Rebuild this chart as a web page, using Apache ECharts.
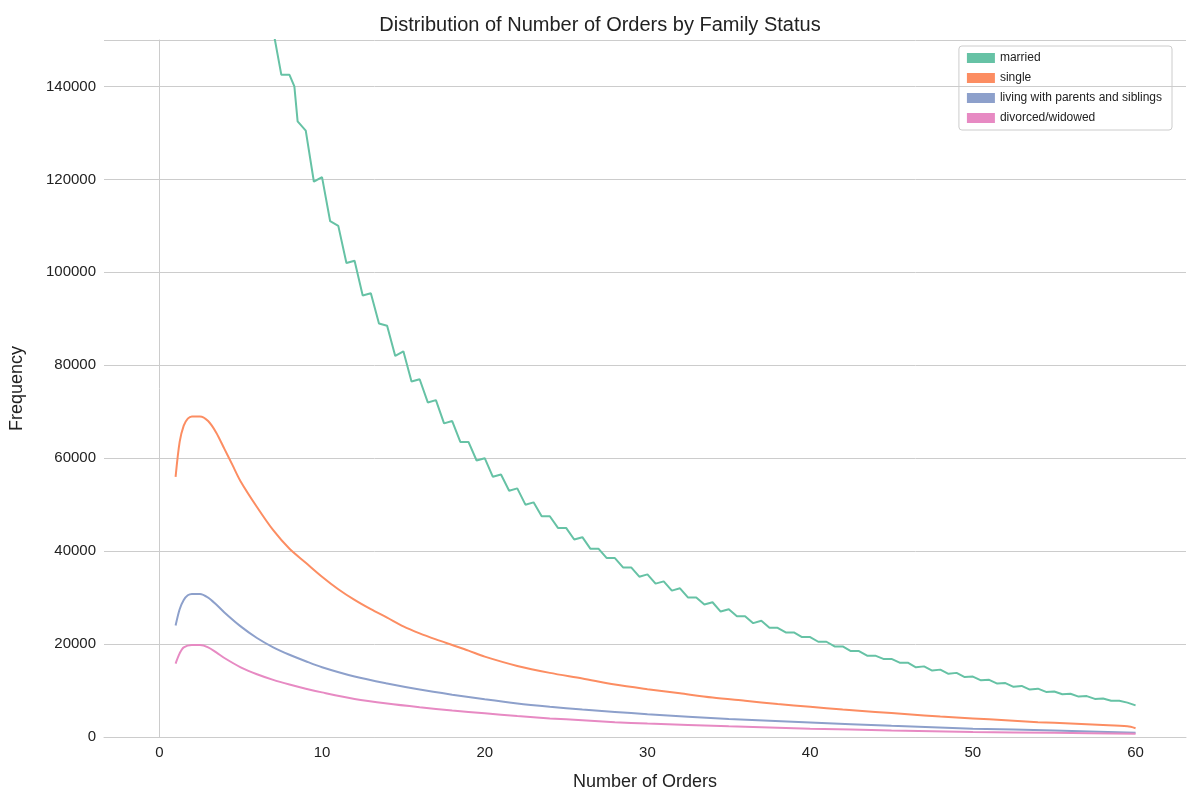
<!DOCTYPE html>
<html><head><meta charset="utf-8">
<script src="https://cdn.jsdelivr.net/npm/echarts@6/dist/echarts.min.js"></script>
<style>body{margin:0}#c{width:1200px;height:800px}</style></head>
<body><div id="c"></div>
<script>
const seriesNames=["married","single","living with parents and siblings","divorced/widowed"];
const colors=["#66c2a5","#fc8d62","#8da0cb","#e78ac3"];
const xTicks=[0,10,20,30,40,50,60];
const marriedX=[6,6.5,7,7.5,8,8.3,8.5,9,9.5,10,10.5,11,11.5,12,12.5,13,13.5,14,14.5,15,15.5,16,16.5,17,17.5,18,18.5,19,19.5,20,20.5,21,21.5,22,22.5,23,23.5,24,24.5,25,25.5,26,26.5,27,27.5,28,28.5,29,29.5,30,30.5,31,31.5,32,32.5,33,33.5,34,34.5,35,35.5,36,36.5,37,37.5,38,38.5,39,39.5,40,40.5,41,41.5,42,42.5,43,43.5,44,44.5,45,45.5,46,46.5,47,47.5,48,48.5,49,49.5,50,50.5,51,51.5,52,52.5,53,53.5,54,54.5,55,55.5,56,56.5,57,57.5,58,58.5,59,59.5,60];
const marriedY=[170000,160000,152000,142500,142500,140000,132500,130500,119500,120500,111000,110000,102000,102500,95000,95500,89000,88500,82000,83000,76500,77000,72000,72500,67500,68000,63500,63500,59500,60000,56000,56500,53000,53500,50000,50500,47500,47500,45000,45000,42500,43000,40500,40500,38500,38500,36500,36500,34500,35000,33000,33500,31500,32000,30000,30000,28500,29000,27000,27500,26000,26000,24500,25000,23500,23500,22500,22500,21500,21500,20500,20500,19500,19500,18500,18500,17500,17500,16800,16800,16000,16000,15000,15200,14300,14500,13600,13800,12900,13000,12200,12300,11500,11600,10800,11000,10200,10400,9700,9800,9200,9300,8700,8800,8200,8300,7800,7800,7400,6800];
const singleX=[1,1.25,1.5,1.75,2,2.5,3,3.5,4,4.5,5,6,7,8,9,10,11,12,13,14,15,16,17,18,19,20,22,24,26,28,30,32,34,36,38,40,42,44,46,48,50,52,54,56,58,59.5,60];
const singleY=[56000,63500,67000,68500,69000,69000,68000,65500,62000,58500,55000,49500,44500,40500,37500,34500,31800,29500,27500,25700,23800,22300,21000,19800,18600,17300,15300,13800,12600,11300,10300,9400,8500,7800,7100,6500,5900,5400,4900,4400,4000,3600,3200,2900,2600,2300,1900];
const livingX=[1,1.25,1.5,1.75,2,2.5,3,3.5,4,5,6,7,8,9,10,12,14,16,18,20,22,24,26,28,30,35,40,45,50,55,60];
const livingY=[24000,27500,29500,30500,30800,30800,30000,28500,26800,23800,21300,19300,17700,16300,15000,13000,11500,10200,9100,8100,7200,6500,5900,5400,4900,3900,3100,2400,1800,1400,900];
const divorcedX=[1,1.25,1.5,2,2.5,3,3.5,4,5,6,7,8,9,10,12,14,16,18,20,22,24,26,28,30,35,40,45,50,55,60];
const divorcedY=[15800,18000,19300,19800,19800,19300,18200,17000,15000,13500,12300,11300,10400,9600,8200,7200,6400,5700,5100,4500,4000,3600,3200,2900,2300,1800,1400,1100,900,700];
const xs=[marriedX,singleX,livingX,divorcedX], ys=[marriedY,singleY,livingY,divorcedY];
const ch=echarts.init(document.getElementById('c'));
const f='Liberation Sans';
ch.setOption({
 animation:false,
 title:{text:'Distribution of Number of Orders by Family Status',left:'center',top:10,textStyle:{fontFamily:f,fontSize:20,fontWeight:'normal',color:'#222'}},
 legend:{data:seriesNames.map(n=>({name:n,icon:'rect'})),orient:'vertical',right:28,top:46,itemWidth:28,itemHeight:10,itemGap:8,
   borderColor:'#ccc',borderWidth:1,borderRadius:3,padding:[6,10,6,8],textStyle:{fontFamily:f,fontSize:12,color:'#222'}},
 grid:{left:104,right:14,top:40,bottom:63},
 xAxis:{type:'value',min:-3.4,max:63.1,name:'Number of Orders',nameLocation:'middle',nameGap:36,
   nameTextStyle:{fontFamily:f,fontSize:18,color:'#222'},
   axisLine:{show:true,lineStyle:{color:'#ccc'}},axisTick:{show:false,customValues:xTicks},
   axisLabel:{fontFamily:f,fontSize:15,color:'#222',customValues:xTicks},
   splitLine:{show:false}},
 yAxis:{type:'value',min:0,max:150000,interval:20000,name:'Frequency',nameLocation:'middle',nameGap:78,
   nameTextStyle:{fontFamily:f,fontSize:18,color:'#222'},
   axisLine:{show:true,lineStyle:{color:'#ccc'}},axisTick:{show:false},
   axisLabel:{fontFamily:f,fontSize:15,color:'#222',formatter:v=>v<150000?String(v):''},
   splitLine:{lineStyle:{color:'#ccc'}}},
 series:seriesNames.map((n,i)=>({name:n,type:'line',showSymbol:false,clip:true,smooth:i>0?0.3:false,
   lineStyle:{width:2,color:colors[i]},itemStyle:{color:colors[i]},
   data:xs[i].map((x,j)=>[x,ys[i][j]])}))
});
</script></body></html>
